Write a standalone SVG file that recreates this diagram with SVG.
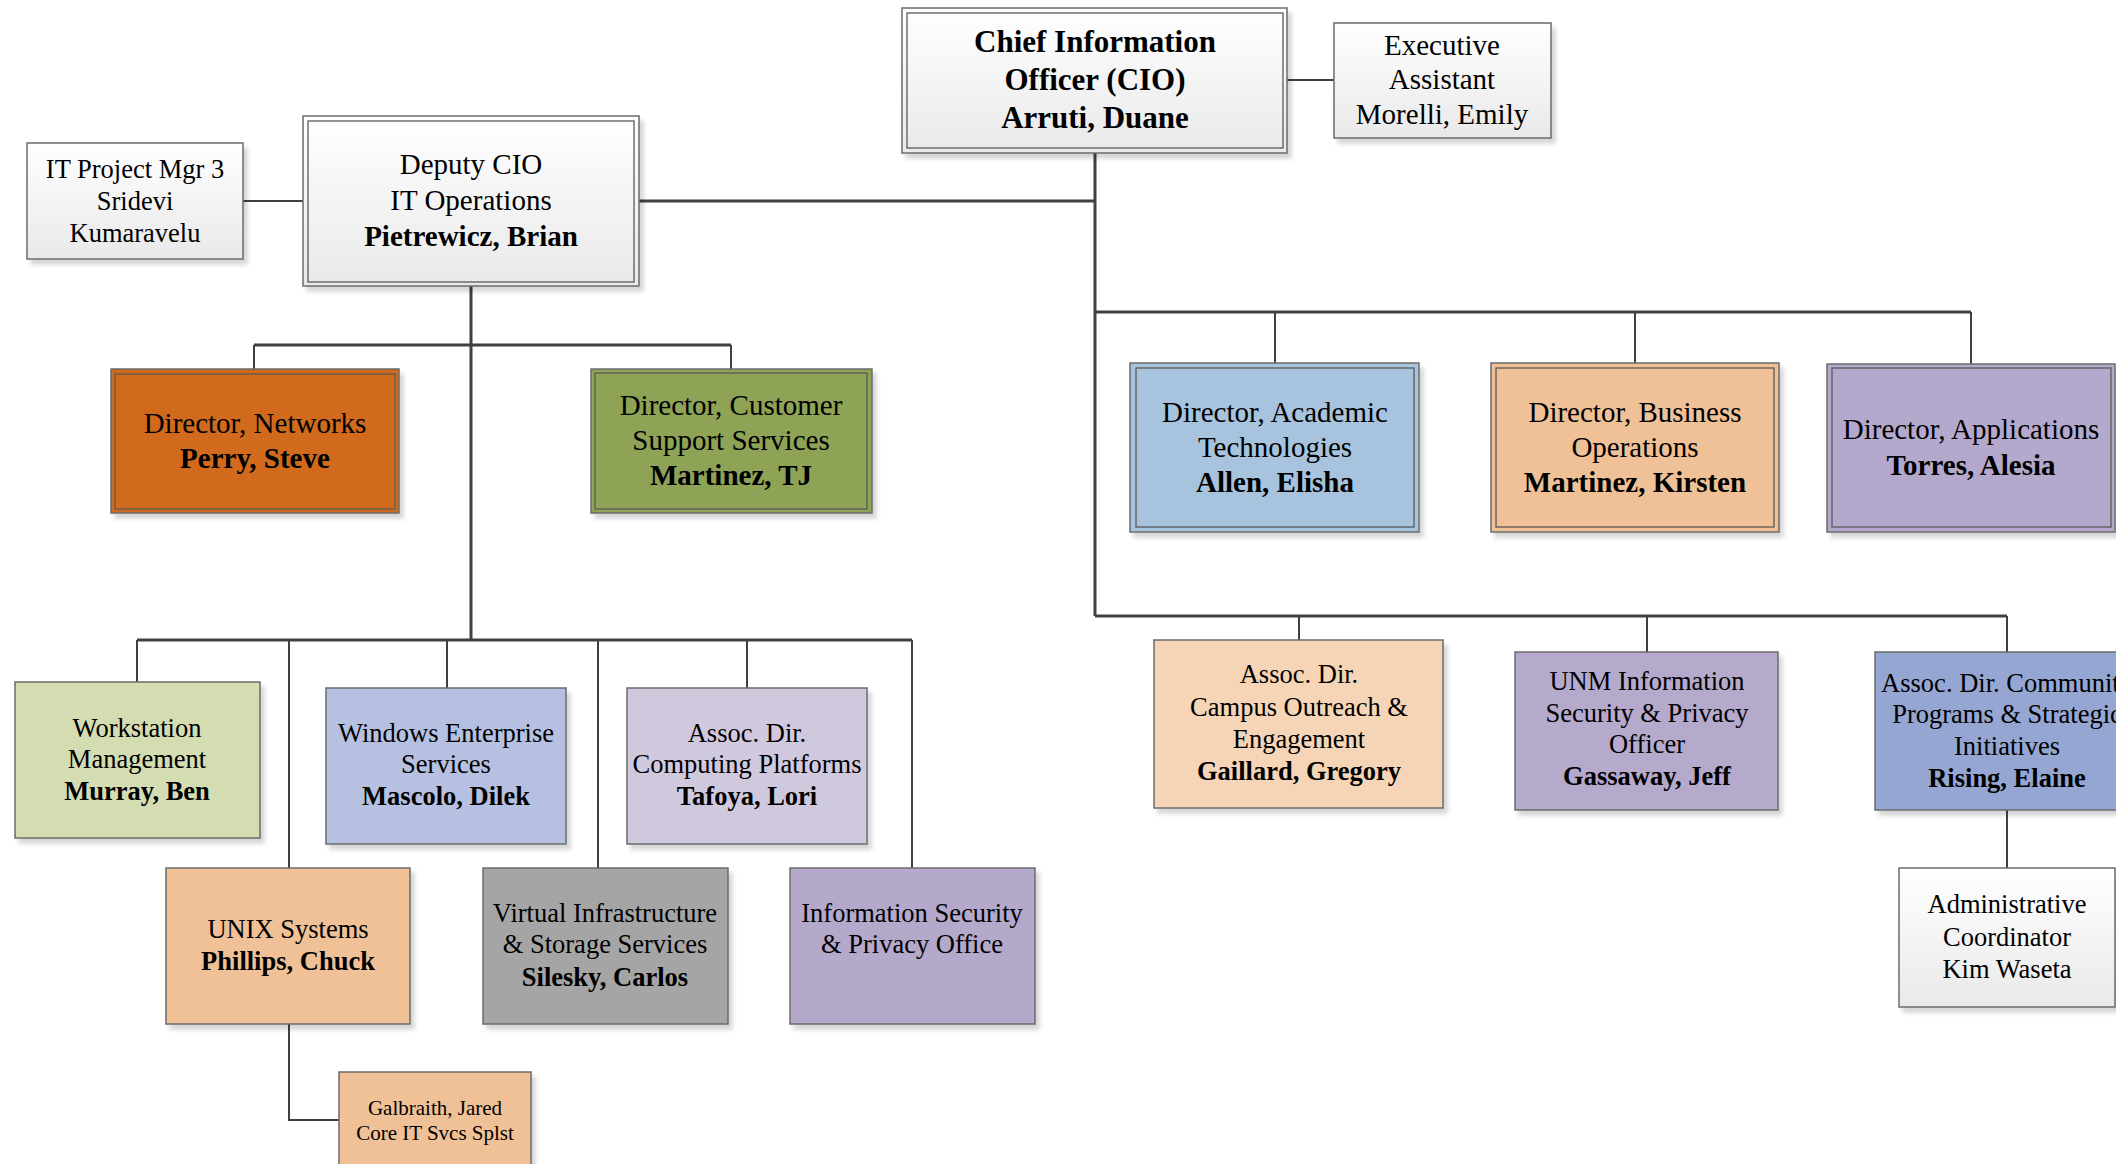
<svg xmlns="http://www.w3.org/2000/svg" width="2116" height="1164" viewBox="0 0 2116 1164">
<defs>
<filter id="sh" x="-5%" y="-5%" width="115%" height="125%">
<feDropShadow dx="4" dy="5" stdDeviation="2" flood-color="#000" flood-opacity="0.16"/>
</filter>
<linearGradient id="wg" x1="0" y1="0" x2="0" y2="1">
<stop offset="0" stop-color="#ffffff"/>
<stop offset="1" stop-color="#e9e9e9"/>
</linearGradient>
</defs>
<style>
.box{stroke:#6b6b6b;stroke-width:1.5;filter:url(#sh)}
.inner{fill:none;stroke:#5a5a5a;stroke-width:1.3}
.w{fill:url(#wg)}
text{font-family:"Liberation Serif","Times New Roman",serif;text-anchor:middle;fill:#000}
.t31{font-size:31px;font-weight:bold}
.t29{font-size:29px}
.t26{font-size:26.5px}
.t21{font-size:21px}
.b{font-weight:bold}
.main{fill:none;stroke:#404040;stroke-width:3}
.drop{fill:none;stroke:#404040;stroke-width:2}
</style>
<rect width="2116" height="1164" fill="#ffffff"/>

<g id="connectors">
<path class="drop" d="M1287 80H1334"/>
<path class="drop" d="M243 201H303"/>
<path class="main" d="M639 201H1095"/>
<path class="main" d="M1095 153V616"/>
<path class="main" d="M1095 312H1971"/>
<path class="drop" d="M1275 312V363M1635 312V363M1971 312V364"/>
<path class="main" d="M1095 616H2007"/>
<path class="drop" d="M1299 616V640M1647 616V652M2007 616V652"/>
<path class="drop" d="M2007 810V868"/>
<path class="main" d="M471 286V640"/>
<path class="main" d="M254 345H731"/>
<path class="drop" d="M254 345V369M731 345V369"/>
<path class="main" d="M137 640H912"/>
<path class="drop" d="M137 640V682M289 640V868M447 640V688M598 640V868M747 640V688M912 640V868"/>
<path class="drop" d="M289 1024V1120H339"/>
</g>

<g id="cio">
<rect class="box w" x="902" y="8" width="385" height="145"/>
<rect class="inner" x="907" y="13" width="376" height="135"/>
<text class="t31" x="1095" y="52">Chief Information</text>
<text class="t31" x="1095" y="90">Officer (CIO)</text>
<text class="t31" x="1095" y="128">Arruti, Duane</text>
</g>

<g id="exec-assistant">
<rect class="box w" x="1334" y="23" width="217" height="115"/>
<text class="t29" x="1442" y="55">Executive</text>
<text class="t29" x="1442" y="89">Assistant</text>
<text class="t29" x="1442" y="124">Morelli, Emily</text>
</g>

<g id="deputy-cio">
<rect class="box w" x="303" y="116" width="336" height="170"/>
<rect class="inner" x="308" y="121" width="326" height="161"/>
<text class="t29" x="471" y="174">Deputy CIO</text>
<text class="t29" x="471" y="210">IT Operations</text>
<text class="t29 b" x="471" y="246">Pietrewicz, Brian</text>
</g>

<g id="it-project-mgr">
<rect class="box w" x="27" y="143" width="216" height="116"/>
<text class="t26" x="135" y="178">IT Project Mgr 3</text>
<text class="t26" x="135" y="210">Sridevi</text>
<text class="t26" x="135" y="242">Kumaravelu</text>
</g>

<g id="dir-networks">
<rect class="box" fill="#d16b1f" x="111" y="369" width="288" height="144"/>
<rect class="inner" x="115" y="374" width="280" height="135"/>
<text class="t29" x="255" y="433">Director, Networks</text>
<text class="t29 b" x="255" y="468">Perry, Steve</text>
</g>

<g id="dir-customer-support">
<rect class="box" fill="#8ea354" x="591" y="369" width="281" height="144"/>
<rect class="inner" x="595" y="373" width="272" height="136"/>
<text class="t29" x="731" y="415">Director, Customer</text>
<text class="t29" x="731" y="450">Support Services</text>
<text class="t29 b" x="731" y="485">Martinez, TJ</text>
</g>

<g id="dir-academic">
<rect class="box" fill="#a7c3de" x="1130" y="363" width="289" height="169"/>
<rect class="inner" x="1136" y="368" width="278" height="159"/>
<text class="t29" x="1275" y="422">Director, Academic</text>
<text class="t29" x="1275" y="457">Technologies</text>
<text class="t29 b" x="1275" y="492">Allen, Elisha</text>
</g>

<g id="dir-business">
<rect class="box" fill="#f0c096" x="1491" y="363" width="288" height="169"/>
<rect class="inner" x="1496" y="368" width="278" height="159"/>
<text class="t29" x="1635" y="422">Director, Business</text>
<text class="t29" x="1635" y="457">Operations</text>
<text class="t29 b" x="1635" y="492">Martinez, Kirsten</text>
</g>

<g id="dir-applications">
<rect class="box" fill="#b4a9cc" x="1827" y="364" width="288" height="168"/>
<rect class="inner" x="1832" y="368" width="279" height="159"/>
<text class="t29" x="1971" y="439">Director, Applications</text>
<text class="t29 b" x="1971" y="475">Torres, Alesia</text>
</g>

<g id="workstation">
<rect class="box" fill="#d4dcb2" x="15" y="682" width="245" height="156"/>
<text class="t26" x="137" y="737">Workstation</text>
<text class="t26" x="137" y="768">Management</text>
<text class="t26 b" x="137" y="800">Murray, Ben</text>
</g>

<g id="windows-enterprise">
<rect class="box" fill="#b6c1e1" x="326" y="688" width="240" height="156"/>
<text class="t26" x="446" y="742">Windows Enterprise</text>
<text class="t26" x="446" y="773">Services</text>
<text class="t26 b" x="446" y="805">Mascolo, Dilek</text>
</g>

<g id="computing-platforms">
<rect class="box" fill="#d0c9de" x="627" y="688" width="240" height="156"/>
<text class="t26" x="747" y="742">Assoc. Dir.</text>
<text class="t26" x="747" y="773">Computing Platforms</text>
<text class="t26 b" x="747" y="805">Tafoya, Lori</text>
</g>

<g id="unix-systems">
<rect class="box" fill="#f0c096" x="166" y="868" width="244" height="156"/>
<text class="t26" x="288" y="938">UNIX Systems</text>
<text class="t26 b" x="288" y="970">Phillips, Chuck</text>
</g>

<g id="virtual-infrastructure">
<rect class="box" fill="#a5a5a5" x="483" y="868" width="245" height="156"/>
<text class="t26" x="605" y="922">Virtual Infrastructure</text>
<text class="t26" x="605" y="953">&amp; Storage Services</text>
<text class="t26 b" x="605" y="986">Silesky, Carlos</text>
</g>

<g id="info-security-office">
<rect class="box" fill="#b4a8cb" x="790" y="868" width="245" height="156"/>
<text class="t26" x="912" y="922">Information Security</text>
<text class="t26" x="912" y="953">&amp; Privacy Office</text>
</g>

<g id="galbraith">
<rect class="box" fill="#f0c096" x="339" y="1072" width="192" height="130"/>
<text class="t21" x="435" y="1115">Galbraith, Jared</text>
<text class="t21" x="435" y="1140">Core IT Svcs Splst</text>
</g>

<g id="campus-outreach">
<rect class="box" fill="#f6d5b6" x="1154" y="640" width="289" height="168"/>
<text class="t26" x="1299" y="683">Assoc. Dir.</text>
<text class="t26" x="1299" y="716">Campus Outreach &amp;</text>
<text class="t26" x="1299" y="748">Engagement</text>
<text class="t26 b" x="1299" y="780">Gaillard, Gregory</text>
</g>

<g id="unm-infosec-officer">
<rect class="box" fill="#b5a9cc" x="1515" y="652" width="263" height="158"/>
<text class="t26" x="1647" y="690">UNM Information</text>
<text class="t26" x="1647" y="722">Security &amp; Privacy</text>
<text class="t26" x="1647" y="753">Officer</text>
<text class="t26 b" x="1647" y="785">Gassaway, Jeff</text>
</g>

<g id="community-programs">
<rect class="box" fill="#95a6d2" x="1875" y="652" width="265" height="158"/>
<text class="t26" x="2007" y="692">Assoc. Dir. Community</text>
<text class="t26" x="2007" y="723">Programs &amp; Strategic</text>
<text class="t26" x="2007" y="755">Initiatives</text>
<text class="t26 b" x="2007" y="787">Rising, Elaine</text>
</g>

<g id="admin-coordinator">
<rect class="box w" x="1899" y="868" width="216" height="139"/>
<text class="t26" x="2007" y="913">Administrative</text>
<text class="t26" x="2007" y="946">Coordinator</text>
<text class="t26" x="2007" y="978">Kim Waseta</text>
</g>
</svg>
